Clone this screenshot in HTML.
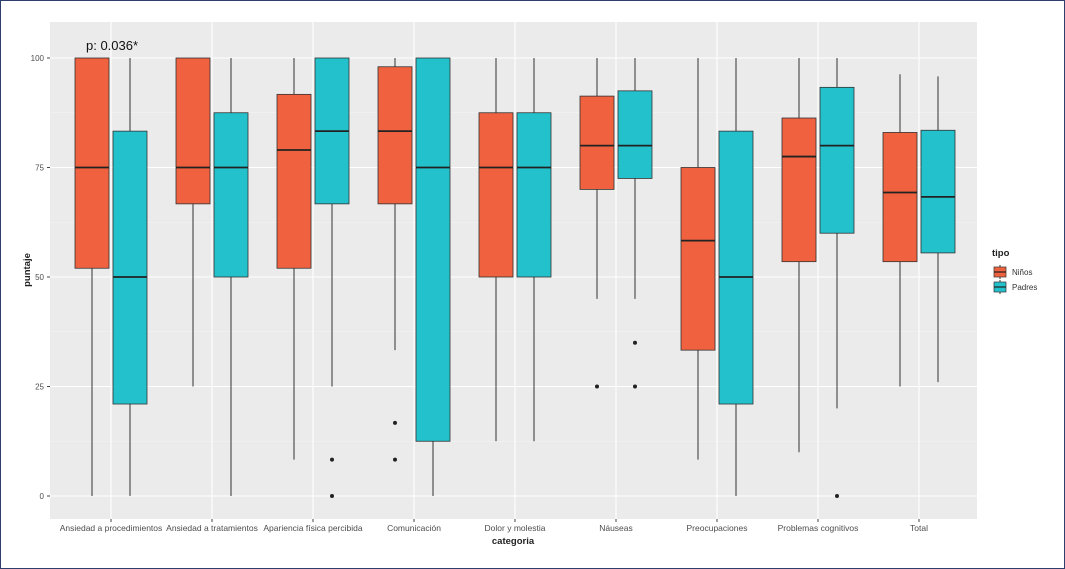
<!DOCTYPE html>
<html><head><meta charset="utf-8"><style>
body{margin:0;background:#fff;}
#wrap{position:relative;width:1063px;height:567px;border:1px solid #2e3f6e;overflow:hidden;}
svg{position:absolute;left:-1px;top:-1px;}
text{font-family:"Liberation Sans",sans-serif;}
</style></head><body>
<div id="wrap">
<svg id="chart" width="1065" height="569"></svg>
</div>
<script>
const categories=["Ansiedad a procedimientos","Ansiedad a tratamientos","Apariencia física percibida","Comunicación","Dolor y molestia","Náuseas","Preocupaciones","Problemas cognitivos","Total"];
// [min, q1, median, q3, max]
const ninos=[[0,52,75,100,100],[25,66.7,75,100,100],[8.3,52,79,91.7,100],[33.3,66.7,83.3,98,100],[12.5,50,75,87.5,100],[45,70,80,91.3,100],[8.3,33.3,58.3,75,100],[10,53.5,77.5,86.3,100],[25,53.5,69.3,83,96.3]];
const padres=[[0,21,50,83.3,100],[0,50,75,87.5,100],[25,66.7,83.3,100,100],[0,12.5,75,100,100],[12.5,50,75,87.5,100],[45,72.5,80,92.5,100],[0,21,50,83.3,100],[20,60,80,93.3,100],[26,55.5,68.3,83.5,95.8]];
const ninosOut=[[],[],[],[16.7,8.3],[],[25],[],[],[]];
const padresOut=[[],[],[8.3,0],[],[],[35,25],[],[0],[]];
const yTicks=[0,25,50,75,100];
const NS="http://www.w3.org/2000/svg";
const svg=document.getElementById('chart');
const px0=50,px1=977,py0=22,py1=519;
const y=v=>496-(v/100)*438;
const x=i=>111+i*101;
function el(t,a,p){const e=document.createElementNS(NS,t);for(const k in a)e.setAttribute(k,a[k]);(p||svg).appendChild(e);return e;}
const panel=el('rect',{x:px0,y:py0,width:px1-px0,height:py1-py0,fill:'#ebebeb'});


for(let i=0;i<4;i++){const v=12.5+25*i;el('line',{x1:px0,x2:px1,y1:y(v),y2:y(v),stroke:'#f5f5f5','stroke-width':0.6});}
yTicks.forEach(t=>{const g=el('line',{x1:px0,x2:px1,y1:y(t),y2:y(t),stroke:'#fff','stroke-width':1.1});


el('line',{x1:px0-3,x2:px0,y1:y(t),y2:y(t),stroke:'#444'});
const tx=el('text',{x:px0-6,y:y(t)+3,'text-anchor':'end','font-size':8,fill:'#4d4d4d'});tx.textContent=t;

});
categories.forEach((c,i)=>{el('line',{x1:x(i),x2:x(i),y1:py0,y2:py1,stroke:'#fff','stroke-width':1.1});
el('line',{x1:x(i),x2:x(i),y1:py1,y2:py1+3,stroke:'#444'});
const tx=el('text',{x:x(i),y:py1+12,'text-anchor':'middle','font-size':8.5,fill:'#4d4d4d'});tx.textContent=c;

});
function box(cx,d,outs,fill,name){
const g=el('g',{});


el('line',{x1:cx,x2:cx,y1:y(d[0]),y2:y(d[4]),stroke:'#333','stroke-width':1},g);
el('rect',{x:cx-17,y:y(d[3]),width:34,height:y(d[1])-y(d[3]),fill:fill,stroke:'#333','stroke-width':0.8},g);
el('line',{x1:cx-17,x2:cx+17,y1:y(d[2]),y2:y(d[2]),stroke:'#222','stroke-width':1.8},g);
outs.forEach(o=>el('circle',{cx:cx,cy:y(o),r:2,fill:'#222'},g));}
categories.forEach((c,i)=>{box(x(i)-19,ninos[i],ninosOut[i],'#f0623f','box-ninos');box(x(i)+19,padres[i],padresOut[i],'#22c1cc','box-padres');});
let t=el('text',{x:86,y:50,'font-size':13,fill:'#111'});t.textContent='p: 0.036*';

t=el('text',{x:513,y:544,'text-anchor':'middle','font-size':9.5,'font-weight':'bold',fill:'#222'});t.textContent='categoria';

t=el('text',{x:30,y:270,'text-anchor':'middle','font-size':9.5,'font-weight':'bold',fill:'#222',transform:'rotate(-90 30 270)'});t.textContent='puntaje';

t=el('text',{x:992,y:256,'font-size':9.5,'font-weight':'bold',fill:'#222'});t.textContent='tipo';

[['Niños','#f0623f',272],['Padres','#22c1cc',287]].forEach(([n,f,yy])=>{
const g=el('g',{});


el('line',{x1:1000,x2:1000,y1:yy-7,y2:yy+7,stroke:'#333'},g);
el('rect',{x:994,y:yy-5,width:12,height:10,fill:f,stroke:'#333','stroke-width':0.7},g);
el('line',{x1:994,x2:1006,y1:yy,y2:yy,stroke:'#222','stroke-width':1.2},g);
const tx=el('text',{x:1012,y:yy+3,'font-size':8,fill:'#333'},g);tx.textContent=n;});
</script>
</body></html>
